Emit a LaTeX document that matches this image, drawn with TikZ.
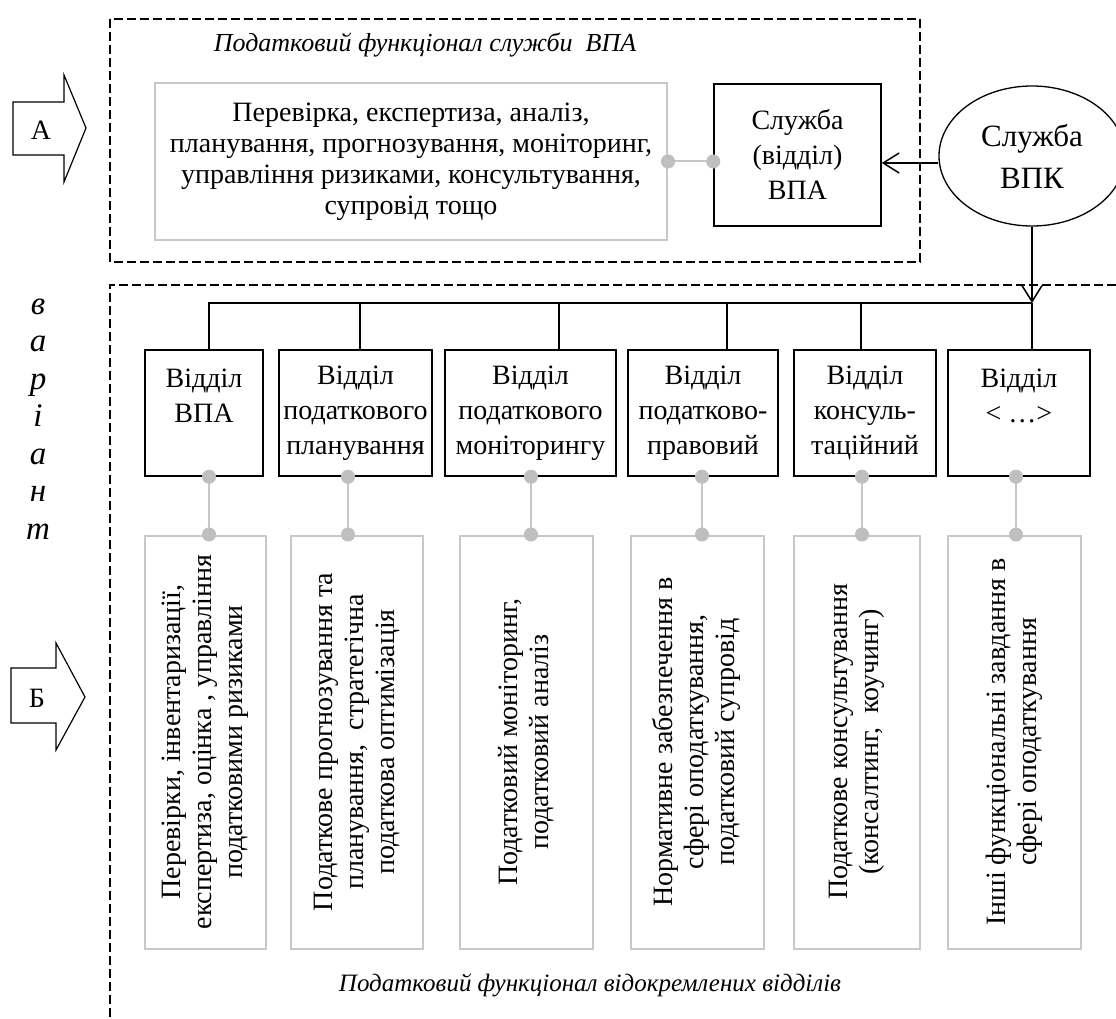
\documentclass[tikz,border=0pt]{standalone}
\usepackage{fontspec}
\setmainfont{Liberation Serif}
\usepackage{graphicx}
\usetikzlibrary{arrows.meta,shapes.geometric}
\definecolor{paleline}{HTML}{C8C8C8}
\definecolor{dotgrey}{HTML}{BFBFBF}
\newcommand{\turnedtext}[1]{\rotatebox{90}{\begin{tabular}{@{}c@{}}#1\end{tabular}}}

\begin{document}
\begin{tikzpicture}
[x=1pt,y=-1pt,
 font=\fontsize{28}{31}\selectfont,
 solid box/.style={shape=rectangle,draw,line width=1.5pt,align=center,
   font=\fontsize{28}{35}\selectfont},
 dept/.style={solid box,inner sep=1pt,minimum height=126pt},
 pale box/.style={shape=rectangle,draw=paleline,line width=2pt},
 task/.style={pale box,minimum height=413pt},
 link/.style={draw=paleline,line width=2pt,
   {Circle[length=14pt,color=dotgrey]}-{Circle[length=14pt,color=dotgrey]},
   shorten <=-7pt,shorten >=-7pt},
 frame/.style={line width=1.3pt,dash pattern=on 9pt off 4pt},
 wire/.style={line width=1.5pt},
 barb/.style={wire,-{Straight Barb[length=16pt,width=20pt]}},
 caption/.style={font=\fontsize{26}{30}\selectfont\itshape}]
\path[use as bounding box,clip] (0,0) rectangle (1116,1019);

% block arrows A and B
\draw[line width=1.2pt] (13,102) -- (64,102) -- (64,75) -- (86,128) -- (64,182) -- (64,155) -- (13,155) -- cycle;
\draw[line width=1.2pt] (11,668) -- (56,668) -- (56,643) -- (85,697) -- (56,750) -- (56,723) -- (11,723) -- cycle;
\path (41,130) node (A) {А}
(37,698) node (B) {Б}
(38,419) node (variant) [font=\fontsize{33}{37.5}\selectfont\itshape,align=center] {в\\а\\р\\і\\а\\н\\т};

% upper part
\draw[frame] (110,19) rectangle (920,262);
\path (425,45) node (topcap) [caption] {Податковий функціонал служби~ ВПА}
(411,161.5) node (fnva) [pale box,minimum width=512pt,minimum height=157pt,align=center]
  {Перевірка, експертиза, аналіз,\\ планування, прогнозування, моніторинг,\\ управління ризиками, консультування,\\ супровід тощо}
(797.5,155) node (vpa) [solid box,minimum width=167pt,minimum height=142pt] {Служба\\(відділ)\\ВПА}
(1032,156) node (vpk) [shape=ellipse,draw,line width=1.3pt,minimum width=186pt,minimum height=140pt,
  align=center,font=\fontsize{31}{42}\selectfont] {Служба\\ВПК};
\draw[link] (fnva.east) -- (fnva.east -| vpa.west);
\draw[barb] ([yshift=-7pt]vpk.west) -- ([yshift=-7pt]vpk.west -| vpa.east);

% lower part
\draw[frame] (110,1030) -- (110,285) -- (1130,285);
\coordinate (bus) at (1032,303);
\draw[barb] (vpk.south) -- (bus);

\path (204,413) node (d1) [dept,minimum width=118pt] {Відділ\\ВПА\\~}
(355.5,413) node (d2) [dept,minimum width=153pt] {Відділ\\податкового\\планування}
(530.5,413) node (d3) [dept,minimum width=171pt] {Відділ\\податкового\\моніторингу}
(703,413) node (d4) [dept,minimum width=150pt] {Відділ\\податково-\\правовий}
(865,413) node (d5) [dept,minimum width=142pt] {Відділ\\консуль-\\таційний}
(1019,413) node (d6) [dept,minimum width=142pt] {Відділ\\< …>\\~};

\path (205.5,742) node (t1) [task,minimum width=121pt]
  {\turnedtext{Перевірки, інвентаризації,\\ експертиза, оцінка , управління\\ податковими ризиками}}
(357,742) node (t2) [task,minimum width=132pt]
  {\turnedtext{Податкове прогнозування та\\ планування,~ стратегічна\\ податкова оптимізація}}
(526.5,742) node (t3) [task,minimum width=133pt]
  {\turnedtext{Податковий моніторинг,\\ податковий аналіз}}
(697.5,742) node (t4) [task,minimum width=133pt]
  {\turnedtext{Нормативне забезпечення в\\ сфері оподаткування,\\ податковий супровід}}
(857,742) node (t5) [task,minimum width=126pt]
  {\turnedtext{Податкове консультування\\ (консалтинг,~ коучинг)}}
(1014.5,742) node (t6) [task,minimum width=133pt]
  {\turnedtext{Інші функціональні завдання в\\ сфері оподаткування}}
(590,985) node (botcap) [caption,font=\fontsize{25}{30}\selectfont\itshape] {Податковий функціонал відокремлених відділів};

\foreach \i/\dx in {1/5,2/4.5,3/28.5,4/24,5/-4,6/13}
  \draw[wire] ([xshift=\dx pt]d\i.north) |- (bus);
\foreach \i/\dx in {1/5,2/-7.5,3/0.5,4/-1,5/-3,6/-3}
  \draw[link] ([xshift=\dx pt]d\i.south) -- ([xshift=\dx pt]d\i.south |- t\i.north);
\end{tikzpicture}
\end{document}
